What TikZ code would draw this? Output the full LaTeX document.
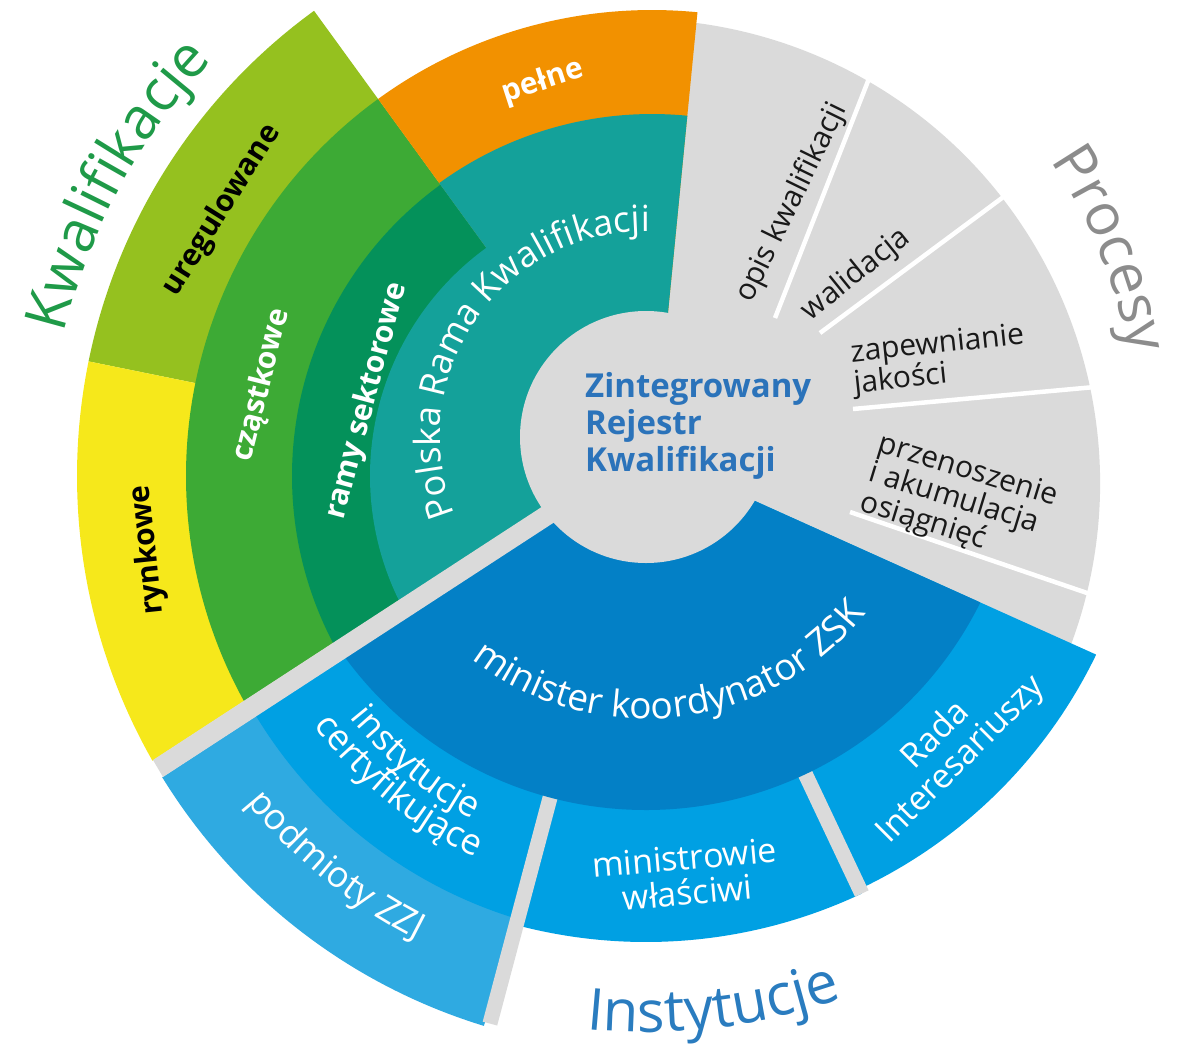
\documentclass[tikz,border=0pt]{standalone}
\usepackage{fontspec}
\setmainfont{Open Sans}
\usetikzlibrary{decorations.text}

\definecolor{tlo}{HTML}{DADADA}
\definecolor{prk}{HTML}{14A19A}
\definecolor{ramy}{HTML}{04915A}
\definecolor{czast}{HTML}{3DAA35}
\definecolor{ureg}{HTML}{95C11F}
\definecolor{rynk}{HTML}{F6E81B}
\definecolor{pelne}{HTML}{F29100}
\definecolor{minkoord}{HTML}{0380C6}
\definecolor{instb}{HTML}{00A0E3}
\definecolor{podm}{HTML}{2FAAE1}
\definecolor{kwtxt}{HTML}{1F9A48}
\definecolor{prtxt}{HTML}{8C8C8C}
\definecolor{intxt}{HTML}{2A7CBF}
\definecolor{zrktxt}{HTML}{2B73BA}

\newcommand{\tytul}{\fontsize{58}{60}\selectfont}
\newcommand{\srodek}{\fontsize{36}{37}\selectfont}
\newcommand{\duzy}{\fontsize{37}{38}\selectfont}

\tikzset{
  gapline/.style={draw=tlo, line width=15pt},
  sepline/.style={draw=white, line width=4.5pt},
  boldlbl/.style={font=\fontsize{30}{32}\selectfont\bfseries, inner sep=0pt},
  proclbl/.style={font=\fontsize{30}{31}\selectfont, text=black!90, inner sep=0pt},
  instlbl/.style={font=\fontsize{34}{35}\selectfont, text=white, inner sep=0pt, align=center},
}

\begin{document}
\begin{tikzpicture}[x=1pt,y=1pt]

\useasboundingbox (0,-1044) rectangle (1177,0);

\coordinate (c0) at (646,-437);
\coordinate (ck) at (652,-476);
\coordinate (cg) at (636,-483);

% Procesy
\fill[tlo] (cg) -- ++(-25:464) arc[start angle=-25, end angle=95, radius=464] -- cycle;
\draw[sepline] (775,-318) -- (870,-76);
\draw[sepline] (820,-333) -- (1006,-195);
\draw[sepline] (853,-409) -- (1095,-387);
\draw[sepline] (850,-512) -- (1090,-594);

% Kwalifikacje
\begin{scope}
  \clip (0,0) -- (0,-860) -- (700,-404) -- (700,0) -- cycle;
  \fill[ureg] (ck) -- ++(126:575) arc[start angle=126, end angle=168.5, radius=575] -- cycle;
  \fill[rynk] (ck) -- ++(168.5:575) arc[start angle=168.5, end angle=220, radius=575] -- cycle;
  \fill[czast] (ck) -- ++(126:466) arc[start angle=126, end angle=220, radius=466] -- cycle;
  \fill[pelne] (ck) -- ++(84.4:466) arc[start angle=84.4, end angle=126, radius=466] -- cycle;
  \fill[ramy] (ck) -- ++(126:360) arc[start angle=126, end angle=220, radius=360] -- cycle;
  \fill[prk] (ck) -- ++(84.4:362) arc[start angle=84.4, end angle=126, radius=362]
    -- ([shift={(126:282)}]ck) arc[start angle=126, end angle=220, radius=282] -- cycle;
\end{scope}

% Instytucje
\begin{scope}
  \clip (0,-883) -- (655,-456) -- (1177,-691) -- (1177,-1044) -- (0,-1044) -- cycle;
  \fill[podm] (ck) -- ++(200:575) arc[start angle=200, end angle=253, radius=575] -- cycle;
  \fill[instb] (ck) -- ++(200:463) arc[start angle=200, end angle=253, radius=463] -- cycle;
  \fill[instb] (c0) -- ++(255.1:505) arc[start angle=255.1, end angle=295.3, radius=505] -- cycle;
  \fill[instb] (c0) -- ++(295.3:500) arc[start angle=295.3, end angle=370, radius=500] -- cycle;
  \draw[gapline] ([shift={(255.1:370)}]c0) -- ([shift={(255.1:607)}]c0);
  \draw[gapline] ([shift={(295.3:370)}]c0) -- ([shift={(295.3:505)}]c0);
  \fill[minkoord] (c0) -- ++(180:373) arc[start angle=180, end angle=370, radius=373] -- cycle;
\end{scope}

\fill[tlo] (600,-469) -- (153,-760) -- (163,-777) -- (610,-486) -- cycle;
\fill[tlo] (c0) circle[radius=126];

% napisy na lukach
\path[decorate, decoration={text along path, text align=center, text color=kwtxt,
  text={|\tytul|Kwalifikacje}}]
  ([shift={(178.5:605)}]ck) arc[start angle=178.5, end angle=124.5, radius=605];
\path[decorate, decoration={text along path, text align=center, text color=prtxt,
  text={|\tytul|Procesy}}]
  ([shift={(52:490)}]c0) arc[start angle=52, end angle=-8, radius=490];
\path[decorate, decoration={text along path, text align=center, text color=intxt,
  text={|\tytul|Instytucje}}]
  ([shift={(246.75:595)}]c0) arc[start angle=246.75, end angle=306.75, radius=595];
\path[decorate, decoration={text along path, text align=center, text color=white,
  text={|\srodek|Polska Rama Kwalifikacji}}]
  ([shift={(220:206)}]c0) arc[start angle=220, end angle=71, radius=206];
\path[decorate, decoration={text along path, text align=center, text color=white,
  text={|\duzy|minister koordynator ZSK}}]
  ([shift={(226.5:282)}]c0) arc[start angle=226.5, end angle=326.5, radius=282];
\path[decorate, decoration={text along path, text align=center, text color=white,
  text={|\srodek|instytucje}}]
  ([shift={(205:387)}]ck) arc[start angle=205, end angle=256, radius=387];
\path[decorate, decoration={text along path, text align=center, text color=white,
  text={|\srodek|certyfikujące}}]
  ([shift={(205:420)}]ck) arc[start angle=205, end angle=256.6, radius=420];
\path[decorate, decoration={text along path, text align=center, text color=white,
  text={|\srodek|podmioty ZZJ}}]
  ([shift={(206:520)}]ck) arc[start angle=206, end angle=256, radius=520];

% etykiety
\node[font=\fontsize{33}{37}\selectfont\bfseries, text=zrktxt, align=left, anchor=west, inner sep=0pt]
  (zrk) at (585,-426) {Zintegrowany\\Rejestr\\Kwalifikacji};
\node[boldlbl, text=white, rotate=18] (pelnelbl) at (543,-82) {pełne};
\node[boldlbl, text=black, rotate=58] (ureglbl) at (222,-210) {uregulowane};
\node[boldlbl, text=white, rotate=76] (czastlbl) at (262,-385) {cząstkowe};
\node[boldlbl, text=white, rotate=75] (ramylbl) at (367,-401) {ramy sektorowe};
\node[boldlbl, text=black, rotate=96] (rynklbl) at (148,-550) {rynkowe};
\node[proclbl, rotate=64] (opis) at (792,-203) {opis kwalifikacji};
\node[proclbl, rotate=39] (walid) at (856,-275) {walidacja};
\node[proclbl, rotate=6, align=left] (zapew) at (939,-361) {zapewnianie\\jakości};
\node[proclbl, rotate=-17, align=left] (przen) at (959,-501) {przenoszenie\\i akumulacja\\osiągnięć};
\node[instlbl, rotate=5] (minwl) at (686,-875) {ministrowie\\właściwi};
\node[instlbl, rotate=45] (rada) at (949,-748) {Rada\\Interesariuszy};

\end{tikzpicture}
\end{document}
